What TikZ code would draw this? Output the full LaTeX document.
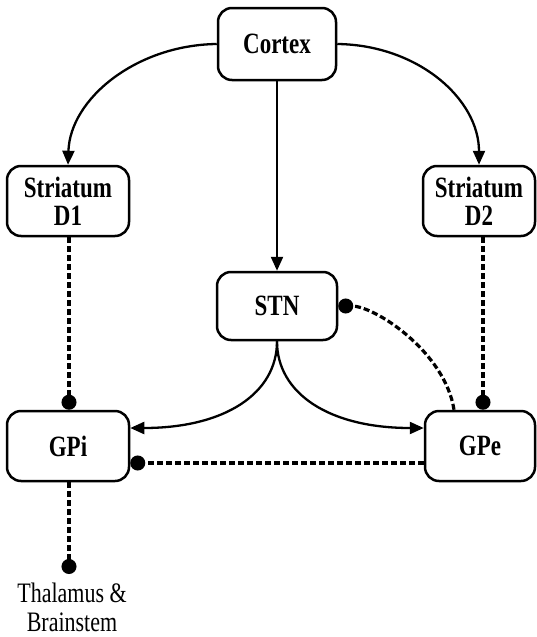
\documentclass[tikz,border=0pt]{standalone}
\usepackage{fontspec}
\usepackage{graphicx}
\setmainfont{Liberation Serif}
\usetikzlibrary{arrows.meta,calc}

% taller-than-wide lettering used for every label
\newcommand{\tl}[1]{\scalebox{1}[1.28]{#1}}

\begin{document}
\begin{tikzpicture}[x=1pt,y=-1pt,
  box/.style={draw, line width=2.5pt, rounded corners=14pt, inner sep=0pt,
    minimum height=70pt, align=center,
    font=\fontsize{23}{26}\selectfont\bfseries},
  excite/.style={line width=2.3pt, -{Triangle[length=14pt,width=12pt]}},
  inhib/.style={line width=3.2pt, dash pattern=on 6pt off 3pt,
    -{Circle[length=15pt,width=15pt]}},
  plainlabel/.style={align=center, inner sep=0pt,
    font=\fontsize{22}{28.5}\selectfont}]
  \useasboundingbox (0,0) rectangle (537,637);

  % nuclei
  \node[box, minimum width=118pt, minimum height=72pt] (cortex) at (277,44) {\tl{Cortex}};
  \node[box, minimum width=122pt] (d1) at (68,201) {\tl{Striatum}\\[2pt]\tl{D1}};
  \node[box, minimum width=112pt] (d2) at (479,201) {\tl{Striatum}\\[2pt]\tl{D2}};
  \node[box, minimum width=120pt, minimum height=68pt] (stn) at (277,306) {\tl{STN}};
  \node[box, minimum width=122pt] (gpi) at (68,446) {\tl{GPi}};
  \node[box, minimum width=110pt] (gpe) at (480,446) {\tl{GPe}};
  \node[plainlabel, anchor=north] (thal) at (72,583) {\tl{Thalamus \&}\\\tl{Brainstem}};

  % excitatory projections
  \draw[excite] (cortex.west) .. controls (136,45) and (70,99) .. (d1.north);
  \draw[excite] (cortex.east) .. controls (418,45) and (479,99) .. (d2.north);
  \draw[excite] (cortex.south) -- (stn.north);
  \draw[excite] (stn.south) .. controls ++(0,52) and ++(95,0) .. ($(gpi.east)+(0,-18)$);
  \draw[excite] (stn.south) .. controls ++(0,52) and ++(-95,0) .. ($(gpe.west)+(0,-18)$);

  % inhibitory projections
  \draw[inhib] ($(d1.south)+(1,0)$) -- ($(gpi.north)+(1,0)$);
  \draw[inhib] ($(d2.south)+(4,0)$) -- ($(gpe.north)+(3,0)$);
  \draw[inhib] ($(gpe.north)+(-26,0)$) .. controls (445,352) and (375,306) .. (stn.east);
  \draw[inhib] ($(gpe.west)+(0,17)$) -- ($(gpi.east)+(0,17)$);
  \draw[inhib] ($(gpi.south)+(1,0)$) -- ($(thal.north)+(-3,-9)$);
\end{tikzpicture}
\end{document}
